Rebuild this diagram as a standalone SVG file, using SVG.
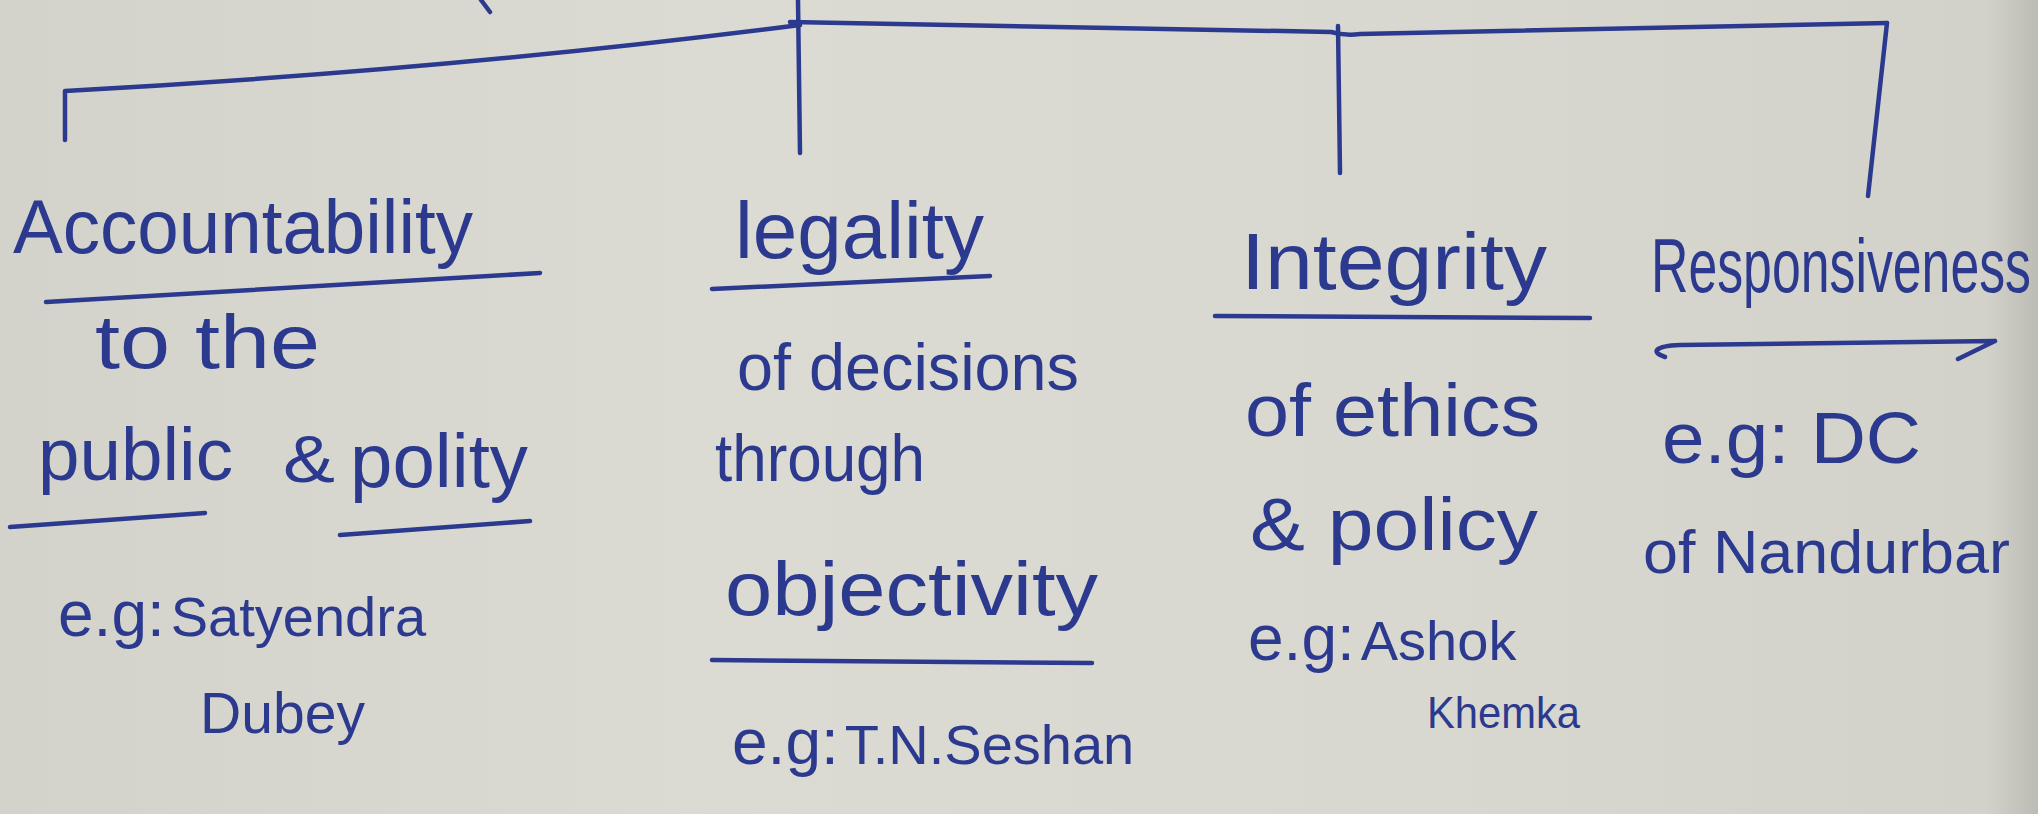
<svg xmlns="http://www.w3.org/2000/svg" width="2038" height="814" viewBox="0 0 2038 814">
  <defs>
    <linearGradient id="paper" x1="0" y1="0" x2="1" y2="0">
      <stop offset="0" stop-color="#d4d3cb"/>
      <stop offset="0.35" stop-color="#dcdbd3"/>
      <stop offset="0.7" stop-color="#d9d8d0"/>
      <stop offset="0.975" stop-color="#d3d2ca"/>
      <stop offset="1" stop-color="#bdbcb4"/>
    </linearGradient>
    <style>
      .ink { fill: none; stroke: #2b3a8e; stroke-width: 4.5; stroke-linecap: round; stroke-linejoin: round; }
      .t { font-family: "Liberation Sans", "DejaVu Sans", sans-serif; fill: #2b3a8e; }
      .eg { font-size: 64px; }
      .nm { font-size: 56px; }
    </style>
  </defs>

  <rect width="2038" height="814" fill="url(#paper)"/>

  <!-- tree branches -->
  <g id="connectors" class="ink">
    <path d="M481,0 L490,12"/>
    <path d="M798,0 L800,153"/>
    <path d="M65,140 L65,91 Q450,70 800,25"/>
    <path d="M790,22 L1331,32 Q1345,36 1360,34 L1887,23"/>
    <path d="M1338,26 L1340,173"/>
    <path d="M1887,23 L1868,196"/>
  </g>

  <!-- Accountability -->
  <g id="accountability">
    <text class="t" font-size="76" x="13" y="253" textLength="460" lengthAdjust="spacingAndGlyphs">Accountability</text>
    <path class="ink" d="M46,302 L540,273"/>
    <text class="t" font-size="76" x="95" y="368" textLength="225" lengthAdjust="spacingAndGlyphs">to the</text>
    <text class="t" font-size="74" x="38" y="480" textLength="195" lengthAdjust="spacingAndGlyphs">public</text>
    <text class="t" font-size="66" x="283" y="482" textLength="52" lengthAdjust="spacingAndGlyphs">&amp;</text>
    <text class="t" font-size="76" x="350" y="487" textLength="178" lengthAdjust="spacingAndGlyphs">polity</text>
    <path class="ink" d="M10,527 L205,513"/>
    <path class="ink" d="M340,535 L530,521"/>
    <text class="t" x="58" y="636"><tspan class="eg">e.g:</tspan><tspan class="nm" dx="6">Satyendra</tspan></text>
    <text class="t" font-size="57" x="200" y="733" textLength="165" lengthAdjust="spacingAndGlyphs">Dubey</text>
  </g>

  <!-- Legality -->
  <g id="legality">
    <text class="t" font-size="80" x="735" y="258" textLength="249" lengthAdjust="spacingAndGlyphs">legality</text>
    <path class="ink" d="M712,289 L990,276"/>
    <text class="t" font-size="66" x="737" y="390" textLength="342" lengthAdjust="spacingAndGlyphs">of decisions</text>
    <text class="t" font-size="66" x="715" y="481" textLength="210" lengthAdjust="spacingAndGlyphs">through</text>
    <text class="t" font-size="76" x="725" y="615" textLength="373" lengthAdjust="spacingAndGlyphs">objectivity</text>
    <path class="ink" d="M712,660 L1092,663"/>
    <text class="t" x="732" y="764"><tspan class="eg">e.g:</tspan><tspan class="nm" dx="6" font-size="54">T.N.Seshan</tspan></text>
  </g>

  <!-- Integrity -->
  <g id="integrity">
    <text class="t" font-size="80" x="1241" y="289" textLength="306" lengthAdjust="spacingAndGlyphs">Integrity</text>
    <path class="ink" d="M1215,316 L1590,318"/>
    <text class="t" font-size="74" x="1245" y="436" textLength="295" lengthAdjust="spacingAndGlyphs">of ethics</text>
    <text class="t" font-size="74" x="1250" y="550" textLength="288" lengthAdjust="spacingAndGlyphs">&amp; policy</text>
    <text class="t" x="1248" y="660"><tspan class="eg">e.g:</tspan><tspan class="nm" dx="6">Ashok</tspan></text>
    <text class="t" font-size="44" x="1427" y="728" textLength="153" lengthAdjust="spacingAndGlyphs">Khemka</text>
  </g>

  <!-- Responsiveness -->
  <g id="responsiveness">
    <text class="t" font-size="51" transform="translate(1651,292) scale(1,1.5)" textLength="380" lengthAdjust="spacingAndGlyphs">Responsiveness</text>
    <path class="ink" d="M1665,357 C1650,352 1655,346 1680,345 L1995,341 M1995,341 L1958,359"/>
    <text class="t" font-size="72" x="1662" y="463" textLength="259" lengthAdjust="spacingAndGlyphs">e.g: DC</text>
    <text class="t" font-size="62" x="1643" y="573" textLength="367" lengthAdjust="spacingAndGlyphs">of Nandurbar</text>
  </g>
</svg>
